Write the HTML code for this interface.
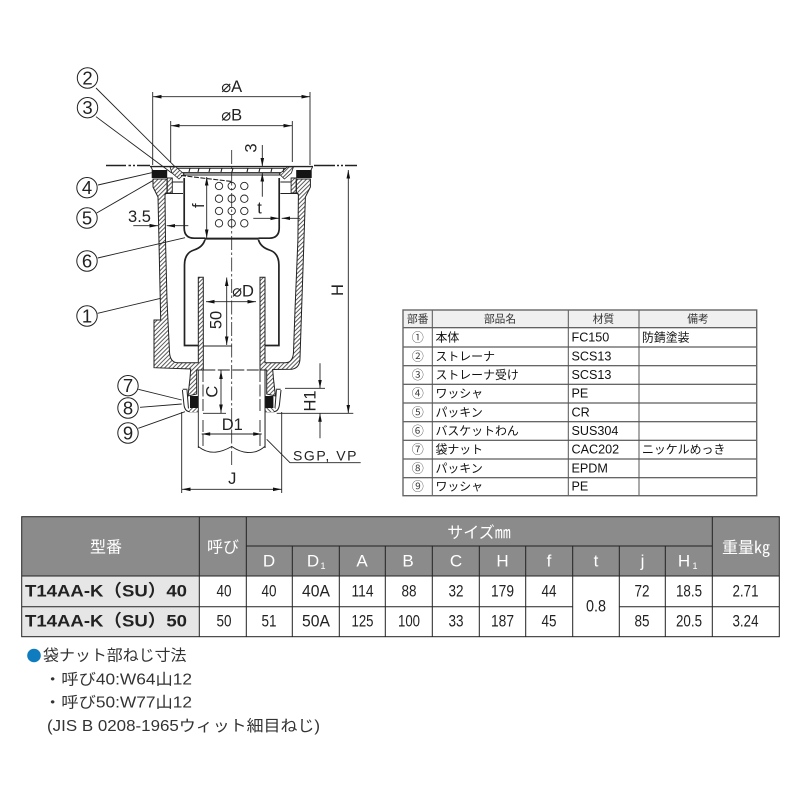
<!DOCTYPE html>
<html><head><meta charset="utf-8"><style>
html,body{margin:0;padding:0;background:#fff;width:800px;height:800px;overflow:hidden}
svg{display:block}
text{font-family:"Liberation Sans","Noto Sans CJK JP",sans-serif;fill:#222}
.d{font-size:16.5px;text-anchor:middle;dominant-baseline:central}
.c{font-size:18.5px;text-anchor:middle;dominant-baseline:central}
.n{font-size:11.9px;dominant-baseline:central;fill:#111}
.m{font-size:12.6px;dominant-baseline:central;fill:#111}
.h{font-size:10.7px;text-anchor:middle;dominant-baseline:central;fill:#333}
.o{font-size:12px;text-anchor:middle;dominant-baseline:central;fill:#444}
.w{font-family:"Noto Sans CJK JP",sans-serif;fill:#fff;font-size:16px;text-anchor:middle;dominant-baseline:central}
.wl{font-family:"Liberation Sans",sans-serif;fill:#fff;font-size:17px;text-anchor:middle;dominant-baseline:central}
.v{font-family:"Liberation Sans",sans-serif;font-size:17px;text-anchor:middle;dominant-baseline:central;fill:#222}
.b{font-family:"Liberation Sans","Noto Sans CJK JP",sans-serif;font-weight:bold;font-size:17px;dominant-baseline:central;fill:#222}
.t{font-family:"Liberation Sans","Noto Sans CJK JP",sans-serif;font-size:15.5px;dominant-baseline:central;fill:#333}
.l{stroke:#222;stroke-width:.9;fill:none}
.g{stroke:#222;stroke-width:1.4;fill:none}
.a{stroke:#222;stroke-width:.9;fill:none;marker-end:url(#ar)}
.aa{stroke:#222;stroke-width:.9;fill:none;marker-start:url(#ars);marker-end:url(#ar)}
.cl{stroke:#222;stroke-width:.8;fill:none;stroke-dasharray:14 2.5 2.5 2.5}
.ci{stroke:#222;stroke-width:1;fill:#fff}
</style></head><body>
<svg width="800" height="800" viewBox="0 0 800 800" xmlns="http://www.w3.org/2000/svg">
<defs>
<marker id="ar" markerUnits="userSpaceOnUse" markerWidth="9" markerHeight="5" refX="8.5" refY="2.5" orient="auto"><path d="M0,.7 L8.5,2.5 L0,4.3 Z" fill="#111"/></marker>
<marker id="ars" markerUnits="userSpaceOnUse" markerWidth="9" markerHeight="5" refX="0" refY="2.5" orient="auto"><path d="M8.5,.7 L0,2.5 L8.5,4.3 Z" fill="#111"/></marker>
<pattern id="h1" patternUnits="userSpaceOnUse" width="3" height="3" patternTransform="rotate(-45)"><rect width="3" height="3" fill="#fff"/><line x1="0" y1="1.5" x2="3" y2="1.5" stroke="#222" stroke-width=".75"/></pattern>
<g id="half">
<rect x="151.7" y="170" width="15.5" height="8" fill="#141414"/>
<rect x="190" y="396" width="8" height="12" fill="#141414"/>
<path class="l" style="stroke-width:1" d="M182.7,389.3 L187.5,389.3 M182.4,390 L184,405 Q185,411.7 190,411.7 L198,411.7 M187,390 L188.5,409"/>
<path d="M188,408 L198,408 L198,412 L190,412 Z" fill="url(#h1)"/>
<path class="l" d="M172.3,182 L183,182 M165,193.5 L183,193.5"/>
<path class="g" style="stroke-width:1.7" d="M184.2,178 L184.2,228 Q184.2,238 194,238.2 L205,238.2"/>
<path class="g" style="stroke-width:1.7" d="M205,239.5 Q203,247 194,250 Q184.5,253 184.5,265 L184.5,345.5 L198,345.5"/>
<path class="l" d="M198.3,370 L198.3,448"/>
</g>
</defs>

<!-- bodies -->
<path fill="url(#h1)" stroke="#222" stroke-width="1" d="M153,179 L167,179 L167,193 L165,194.5 L165.5,240 L167,300 L169.5,352 Q170,362.7 178,362.7 L198.3,362.7 L198.3,277.3 L203.3,277.3 L203.3,370 L196.7,370 L196.7,394 L188,396 L190,378 L190.7,369 L154,367.7 L154,320 L160.7,320 L158,197 L153,187 Z"/>
<path fill="url(#h1)" stroke="#222" stroke-width="1" d="M310.4,179 L296.4,179 L296.4,193 L298.4,194.5 L297.9,240 L295,310 L293.5,352 Q293,362.7 285.4,362.7 L265,362.7 L265,277.3 L260,277.3 L260,370 L266.7,370 L266.7,394 L275.4,396 L273.4,378 L272.7,369.5 L291.7,369.3 Q300,368 300,358 L305.4,197 L310.4,187 Z"/>
<path d="M167.3,178 L172.3,178 L172.3,193 L167.3,193Z" fill="url(#h1)" stroke="#222" stroke-width=".9"/>
<path d="M296.1,178 L291.1,178 L291.1,193 L296.1,193Z" fill="url(#h1)" stroke="#222" stroke-width=".9"/>
<use href="#half"/>
<use href="#half" transform="translate(463.4,0) scale(-1,1)"/>
<path class="g" style="stroke-width:2" d="M205,238.6 L258.4,238.6"/>

<!-- flange and strainer -->
<path class="g" d="M150,166.6 L313,166.6"/>
<path class="l" d="M151,167 L153,171 M312.5,167 L310.5,171 M171,168.3 L292,168.3"/>
<path class="g" d="M176,172.8 L288,172.8"/>
<path class="l" d="M176,175 L288,175"/>
<path d="M170,167 L176,167 L184,174 L179,179 L172,173Z" fill="url(#h1)" stroke="#222" stroke-width=".8"/>
<path d="M293.4,167 L287.4,167 L279.4,174 L284.4,179 L291.4,173Z" fill="url(#h1)" stroke="#222" stroke-width=".8"/>
<path stroke="#222" stroke-width="1.1" fill="none" d="M190,168 l-1,4 M199,168 l-1,4 M210,168 l-1,4 M222,168 l-1,4 M233,168 l-1,4 M248,168 l-1,4 M260,168 l-1,4 M272,168 l-1,4 M284,168 l-1,4"/>
<path class="l" stroke-dasharray="5 1.5" style="stroke-width:1.1" d="M181,175.5 L232,181.5"/>
<path class="g" d="M106,165.5 L126,165.5 M128.5,165.5 L131,165.5 M133,165.5 L135,165.5 M137,165.5 L150,165.5 M314,165.5 L335,165.5 M337,165.5 L339,165.5 M341,165.5 L343,165.5 M345,165.5 L357,165.5"/>

<!-- holes -->
<g class="l" style="stroke-width:.9">
<circle cx="219" cy="186" r="3.7"/><circle cx="231.7" cy="186" r="3.7"/><circle cx="244.3" cy="186" r="3.7"/>
<circle cx="219" cy="198.7" r="3.7"/><circle cx="231.7" cy="198.7" r="3.7"/><circle cx="244.3" cy="198.7" r="3.7"/>
<circle cx="219" cy="211" r="3.7"/><circle cx="231.7" cy="211" r="3.7"/><circle cx="244.3" cy="211" r="3.7"/>
<circle cx="219" cy="223.3" r="3.7"/><circle cx="231.7" cy="223.3" r="3.7"/><circle cx="244.3" cy="223.3" r="3.7"/>
</g>

<!-- pipe -->
<path class="l" stroke-dasharray="12 2.5" d="M203.3,370 L259.3,370 M203,370 L203,412 M203,420 L203,446 M260,370 L260,412 M260,420 L260,446"/>
<path class="l" d="M265,370 L265,448 M198.3,446.5 C210,456 222,452 231.7,446.5 C241,453 254,456 264.7,446.5"/>
<path class="l" d="M203.3,346 L231.7,346"/>
<path class="cl" d="M231.7,150 L231.7,465"/>

<!-- dims -->
<path class="l" d="M152.7,92 L152.7,165 M310,92 L310,165 M170.7,121 L170.7,162 M292.3,121 L292.3,162"/>
<path class="aa" d="M153,96.7 L310,96.7"/>
<path class="aa" d="M171,125.7 L292,125.7"/>
<path class="a" d="M262.3,145 L262.3,166.4"/>
<path class="a" d="M262.3,196.7 L262.3,173"/>
<path class="aa" d="M206.7,177 L206.7,238"/>
<path class="a" d="M133.3,225.7 L158,225.7"/>
<path class="a" d="M188.3,225.7 L166.7,225.7"/>
<path class="a" d="M253.3,218.3 L279,218.3"/>
<path class="a" d="M300,218.3 L281.7,218.3"/>
<path class="aa" d="M348.3,170 L348.3,413.3"/>
<path class="aa" d="M226.7,277.5 L226.7,345"/>
<path class="aa" d="M206,301.7 L256,301.7"/>
<path class="aa" d="M221,370.5 L221,413"/>
<path class="l" d="M203,413.3 L226,413.3 M276.7,413.3 L353.3,413.3 M285,388.3 L325,388.3"/>
<path class="a" d="M320,363.3 L320,388.3"/>
<path class="a" d="M320,438.3 L320,413.3"/>
<path class="aa" d="M201.7,434 L261.7,434"/>
<path class="l" d="M181.7,412 L181.7,493 M281.7,412 L281.7,493"/>
<path class="aa" d="M182,489.3 L281.5,489.3"/>
<path class="l" d="M266.7,439.3 L290,462.7 L360.7,462.7"/>

<!-- leaders -->
<path class="l" d="M96,88 L175,166.7 M96,116.7 L171.7,173 M98,185 L151.7,172.7 M96.7,213 L152.7,180.7 M97.7,258 L185,237.7 M97.7,313.3 L160.7,298.3 M138.3,389.3 L181.7,400 M140,407.3 L181.7,404 M138.3,428.3 L185,411.7"/>

<!-- callouts -->
<circle class="ci" cx="87.5" cy="78" r="10.2"/><text class="c" x="87.5" y="78">2</text>
<circle class="ci" cx="87.5" cy="107.7" r="10.2"/><text class="c" x="87.5" y="107.7">3</text>
<circle class="ci" cx="87" cy="187.7" r="10.2"/><text class="c" x="87" y="187.7">4</text>
<circle class="ci" cx="87" cy="218" r="10.2"/><text class="c" x="87" y="218">5</text>
<circle class="ci" cx="87" cy="261" r="10.2"/><text class="c" x="87" y="261">6</text>
<circle class="ci" cx="87" cy="316" r="10.2"/><text class="c" x="87" y="316">1</text>
<circle class="ci" cx="128" cy="385.7" r="10.2"/><text class="c" x="128" y="385.7">7</text>
<circle class="ci" cx="128" cy="408" r="10.2"/><text class="c" x="128" y="408">8</text>
<circle class="ci" cx="128" cy="433" r="10.2"/><text class="c" x="128" y="433">9</text>

<!-- dim labels -->
<text class="d" x="231.7" y="87">⌀A</text>
<text class="d" x="231.7" y="115.5">⌀B</text>
<text class="d" transform="translate(251.7,148) rotate(-90)">3</text>
<text class="d" transform="translate(199,205.7) rotate(-90)">f</text>
<text class="d" x="139.5" y="217">3.5</text>
<text class="d" x="259.5" y="208.5">t</text>
<text class="d" transform="translate(338,290) rotate(-90)">H</text>
<text class="d" x="243" y="291.5">⌀D</text>
<text class="d" transform="translate(216.7,320) rotate(-90)">50</text>
<text class="d" transform="translate(212.7,391.7) rotate(-90)">C</text>
<text class="d" transform="translate(310.7,401) rotate(-90)">H1</text>
<text class="d" x="232.3" y="425">D1</text>
<text class="d" x="232.3" y="479">J</text>
<text x="293" y="460.5" font-size="14" textLength="63.5" lengthAdjust="spacing">SGP, VP</text>

<!-- parts table -->
<rect x="403" y="310" width="353.7" height="18" fill="#f0f0f0"/>
<g stroke="#333" stroke-width="1" fill="none">
<path d="M403,327.7H756.7 M403,347H756.7 M403,365.7H756.7 M403,384.3H756.7 M403,403H756.7 M403,421.7H756.7 M403,440.3H756.7 M403,459H756.7 M403,477.7H756.7"/>
<path stroke="#555" d="M432.3,310V495.7 M568.3,310V495.7 M639,310V495.7"/>
<rect x="403" y="310" width="353.7" height="185.7" stroke="#666" stroke-width="1.4"/>
</g>
<text class="h" x="417.7" y="319.3">部番</text>
<text class="h" x="500" y="319.3">部品名</text>
<text class="h" x="603.5" y="319.3">材質</text>
<text class="h" x="698" y="319.3">備考</text>
<text class="o" x="417.7" y="337.5">①</text><text class="n" x="435.5" y="337.5">本体</text><text class="m" x="571.5" y="337.5">FC150</text><text class="n" x="642" y="337.5">防錆塗装</text>
<text class="o" x="417.7" y="356.5">②</text><text class="n" x="435.5" y="356.5">ストレーナ</text><text class="m" x="571.5" y="356.5">SCS13</text>
<text class="o" x="417.7" y="375">③</text><text class="n" x="435.5" y="375">ストレーナ受け</text><text class="m" x="571.5" y="375">SCS13</text>
<text class="o" x="417.7" y="393.7">④</text><text class="n" x="435.5" y="393.7">ワッシャ</text><text class="m" x="571.5" y="393.7">PE</text>
<text class="o" x="417.7" y="412.3">⑤</text><text class="n" x="435.5" y="412.3">パッキン</text><text class="m" x="571.5" y="412.3">CR</text>
<text class="o" x="417.7" y="431">⑥</text><text class="n" x="435.5" y="431">バスケットわん</text><text class="m" x="571.5" y="431">SUS304</text>
<text class="o" x="417.7" y="449.7">⑦</text><text class="n" x="435.5" y="449.7">袋ナット</text><text class="m" x="571.5" y="449.7">CAC202</text><text class="n" x="642" y="449.7">ニッケルめっき</text>
<text class="o" x="417.7" y="468.3">⑧</text><text class="n" x="435.5" y="468.3">パッキン</text><text class="m" x="571.5" y="468.3">EPDM</text>
<text class="o" x="417.7" y="486.7">⑨</text><text class="n" x="435.5" y="486.7">ワッシャ</text><text class="m" x="571.5" y="486.7">PE</text>

<!-- main table -->
<rect x="21.7" y="516.7" width="757.6" height="59.3" fill="#8b8b8b"/>
<rect x="21.7" y="576" width="177.6" height="60.7" fill="#e6e6e6"/>
<g stroke="#222" stroke-width="1" fill="none">
<rect x="21.7" y="516.7" width="757.6" height="120"/>
<path d="M21.7,576H779.3 M21.7,606.7H572.7 M619.3,606.7H779.3 M246.3,546H712.3"/>
<path d="M199.3,516.7V636.7 M246.3,516.7V636.7 M712.3,516.7V636.7 M292.3,546V636.7 M339.3,546V636.7 M385.3,546V636.7 M432.3,546V636.7 M479.3,546V636.7 M525.7,546V636.7 M572.7,546V636.7 M619.3,546V636.7 M665.3,546V636.7"/>
</g>
<text class="w" x="106" y="545.5">型番</text>
<text class="w" x="223" y="545.5">呼び</text>
<text class="w" x="479" y="531">サイズ㎜</text>
<text class="w" x="746" y="546">重量㎏</text>
<text class="wl" x="269" y="561">D</text>
<text class="wl" x="313" y="561">D</text><text class="wl" style="font-size:9px" x="323" y="566">1</text>
<text class="wl" x="362" y="561">A</text>
<text class="wl" x="408" y="561">B</text>
<text class="wl" x="456" y="561">C</text>
<text class="wl" x="502.5" y="561">H</text>
<text class="wl" x="549" y="561">f</text>
<text class="wl" x="596" y="561">t</text>
<text class="wl" x="642.5" y="561">j</text>
<text class="wl" x="684" y="561">H</text><text class="wl" style="font-size:9px" x="695" y="566">1</text>

<text class="b" x="25" y="591" textLength="162" lengthAdjust="spacingAndGlyphs">T14AA-K（SU）40</text>
<text class="b" x="25" y="621" textLength="162" lengthAdjust="spacingAndGlyphs">T14AA-K（SU）50</text>

<g>
<text class="v" x="224" y="591" textLength="15" lengthAdjust="spacingAndGlyphs">40</text>
<text class="v" x="269" y="591" textLength="15" lengthAdjust="spacingAndGlyphs">40</text>
<text class="v" x="316" y="591" textLength="28" lengthAdjust="spacingAndGlyphs">40A</text>
<text class="v" x="362.5" y="591" textLength="22" lengthAdjust="spacingAndGlyphs">114</text>
<text class="v" x="409" y="591" textLength="15" lengthAdjust="spacingAndGlyphs">88</text>
<text class="v" x="456" y="591" textLength="15" lengthAdjust="spacingAndGlyphs">32</text>
<text class="v" x="502.5" y="591" textLength="23" lengthAdjust="spacingAndGlyphs">179</text>
<text class="v" x="549" y="591" textLength="15" lengthAdjust="spacingAndGlyphs">44</text>
<text class="v" x="642" y="591" textLength="15" lengthAdjust="spacingAndGlyphs">72</text>
<text class="v" x="689" y="591" textLength="26" lengthAdjust="spacingAndGlyphs">18.5</text>
<text class="v" x="745.5" y="591" textLength="26" lengthAdjust="spacingAndGlyphs">2.71</text>
<text class="v" x="596" y="606" textLength="20" lengthAdjust="spacingAndGlyphs">0.8</text>
<text class="v" x="224" y="621" textLength="15" lengthAdjust="spacingAndGlyphs">50</text>
<text class="v" x="269" y="621" textLength="15" lengthAdjust="spacingAndGlyphs">51</text>
<text class="v" x="316" y="621" textLength="28" lengthAdjust="spacingAndGlyphs">50A</text>
<text class="v" x="362.5" y="621" textLength="22" lengthAdjust="spacingAndGlyphs">125</text>
<text class="v" x="409" y="621" textLength="22" lengthAdjust="spacingAndGlyphs">100</text>
<text class="v" x="456" y="621" textLength="15" lengthAdjust="spacingAndGlyphs">33</text>
<text class="v" x="502.5" y="621" textLength="23" lengthAdjust="spacingAndGlyphs">187</text>
<text class="v" x="549" y="621" textLength="15" lengthAdjust="spacingAndGlyphs">45</text>
<text class="v" x="642" y="621" textLength="15" lengthAdjust="spacingAndGlyphs">85</text>
<text class="v" x="689" y="621" textLength="26" lengthAdjust="spacingAndGlyphs">20.5</text>
<text class="v" x="745.5" y="621" textLength="26" lengthAdjust="spacingAndGlyphs">3.24</text>
</g>

<!-- notes -->
<circle cx="34" cy="655.5" r="6.8" fill="#0f7cc0"/>
<text class="t" x="43" y="656" textLength="143.5" lengthAdjust="spacingAndGlyphs">袋ナット部ねじ寸法</text>
<text class="t" x="44" y="680" textLength="148" lengthAdjust="spacingAndGlyphs">・呼び40:W64山12</text>
<text class="t" x="44" y="703" textLength="148" lengthAdjust="spacingAndGlyphs">・呼び50:W77山12</text>
<text class="t" x="47" y="726.5" textLength="273" lengthAdjust="spacingAndGlyphs">(JIS B 0208-1965ウィット細目ねじ)</text>
</svg>
</body></html>
